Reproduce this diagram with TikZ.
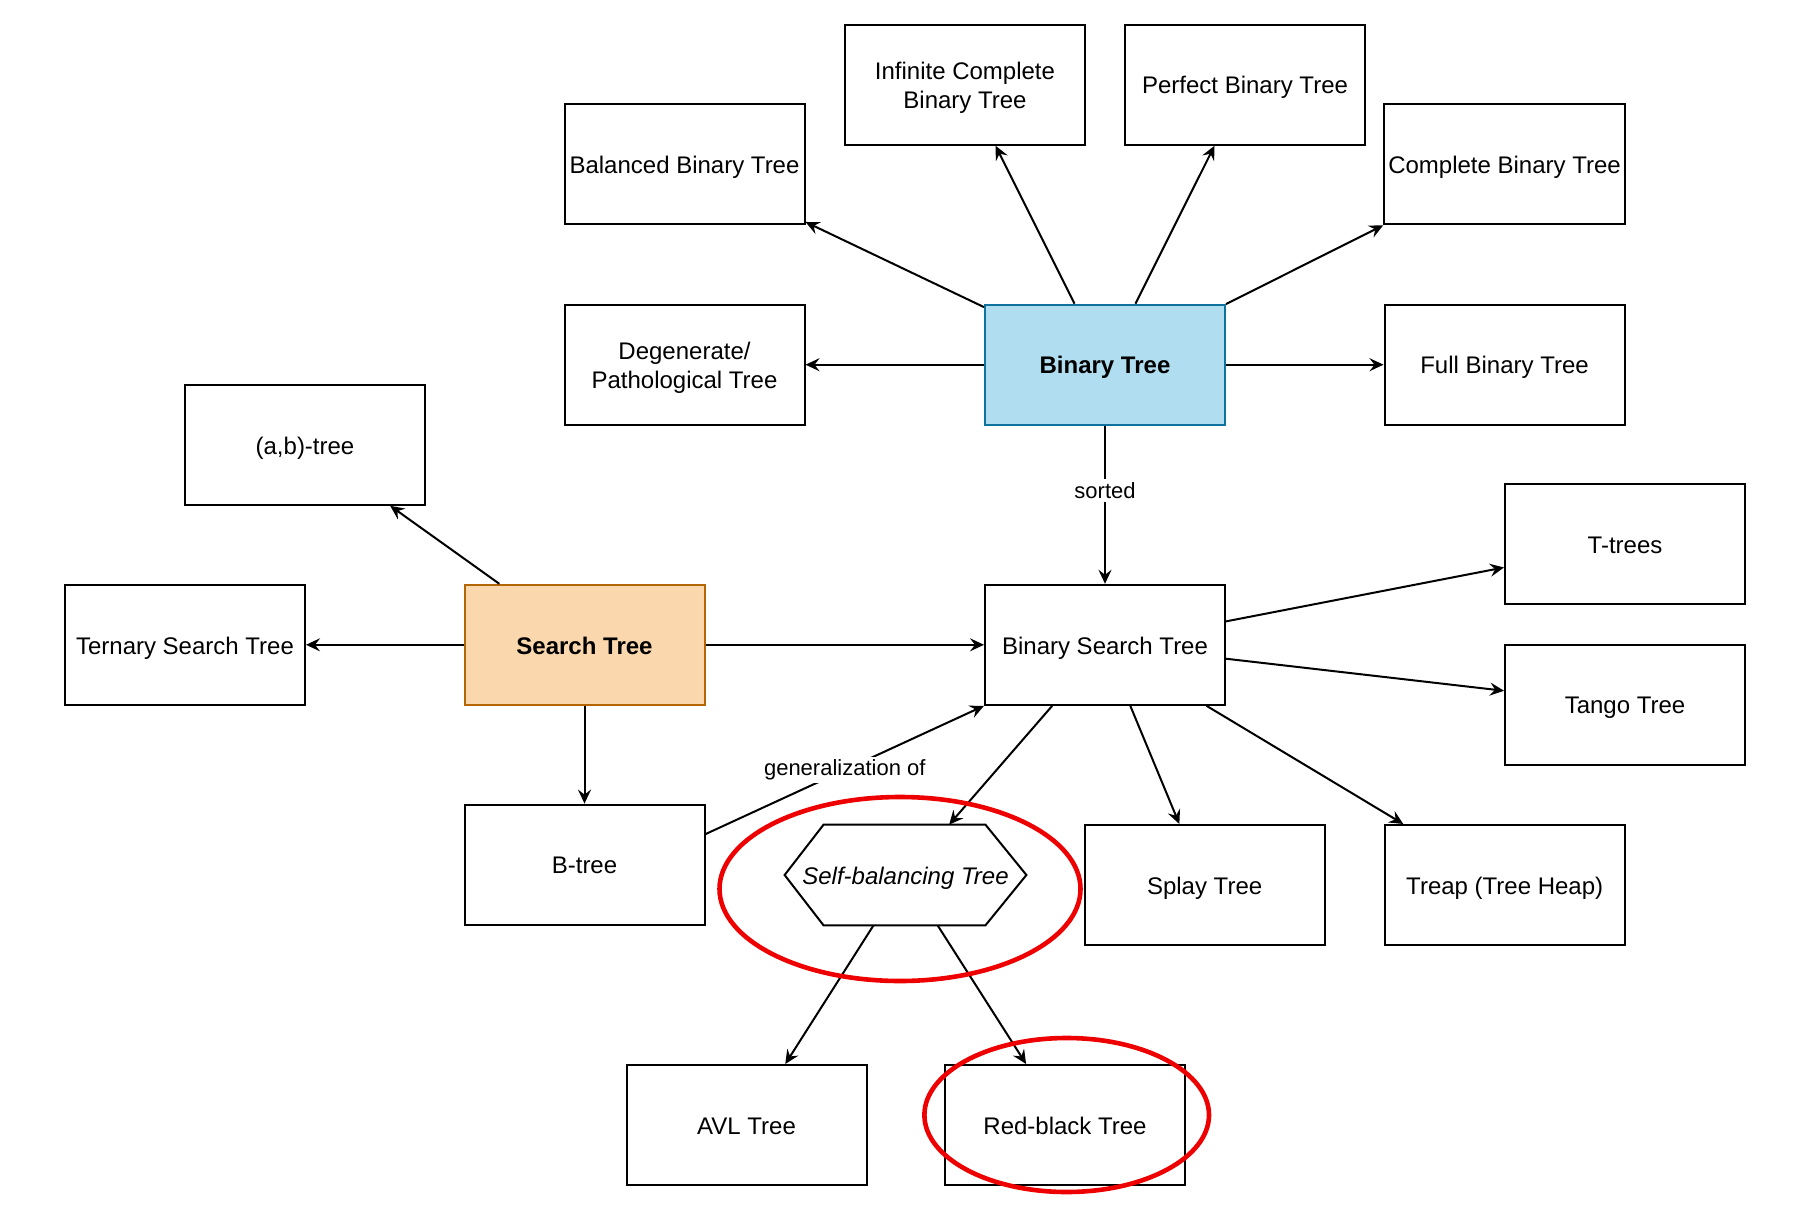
\documentclass[tikz,border=0pt]{standalone}
\usepackage{fontspec}
\setmainfont{Liberation Sans}
\usetikzlibrary{arrows.meta,calc,shapes.geometric}
\definecolor{bluefill}{HTML}{B1DDF0}
\definecolor{bluestroke}{HTML}{10739E}
\definecolor{orfill}{HTML}{FAD7AC}
\definecolor{orstroke}{HTML}{B46504}
\definecolor{hlred}{HTML}{EE0000}
\newcommand{\twolines}[2]{\raisebox{-1.8pt}[\height][\depth]{\begin{tabular}{@{}c@{}}#1\\#2\end{tabular}}}
\begin{document}
\begin{tikzpicture}[x=0.5pt,y=-0.5pt,
  box/.style={draw=black,line width=1pt,fill=white,minimum width=120pt,minimum height=60pt,
    inner sep=2pt,text height=12.2pt,text depth=3pt,font=\fontsize{12pt}{14.5pt}\selectfont},
  box2/.style={draw=black,line width=1pt,fill=white,minimum width=120pt,minimum height=60pt,
    inner sep=2pt,font=\fontsize{12pt}{14.5pt}\selectfont},
  bluebox/.style={box,fill=bluefill,draw=bluestroke,font=\fontsize{12pt}{14.5pt}\selectfont\bfseries},
  orbox/.style={box,fill=orfill,draw=orstroke,font=\fontsize{12pt}{14.5pt}\selectfont\bfseries},
  hexbox/.style={minimum width=120.5pt,minimum height=50pt,inner sep=0pt,text height=12.2pt,text depth=3pt,
    font=\fontsize{12pt}{14.5pt}\selectfont\itshape},
  conn/.style={draw=black,line width=1pt,-{Stealth[length=7pt,width=6.5pt,inset=2.5pt]}},
  elabel/.style={fill=white,inner sep=1.5pt,font=\fontsize{11pt}{12pt}\selectfont},
  hl/.style={draw=hlred,line width=2.3pt,ellipse,fill=none}
]
\useasboundingbox (0,0) rectangle (1814,1214);

% nodes
\node[box2] (inf)  at (965,84.7)   {\twolines{Infinite Complete}{Binary Tree}};
\node[box] (perf)  at (1245,84.7)  {Perfect Binary Tree};
\node[box] (bal)   at (684.5,164.5){Balanced Binary Tree};
\node[box] (comp)  at (1504.5,164.5){Complete Binary Tree};
\node[box2] (deg)  at (684.5,364.7){\twolines{Degenerate/}{Pathological Tree}};
\node[bluebox] (bin) at (1105,364.7) {Binary Tree};
\node[box] (full)  at (1504.5,364.7){Full Binary Tree};
\node[box] (ab)    at (305,444.8)  {(a,b)-tree};
\node[box] (tt)    at (1625,544)   {T-trees};
\node[box] (tern)  at (185,644.8)  {Ternary Search Tree};
\node[orbox] (st)  at (584.5,644.8){Search Tree};
\node[box] (bst)   at (1105,644.8) {Binary Search Tree};
\node[box] (tango) at (1625,704.7) {Tango Tree};
\node[box] (btree) at (584.5,864.6){B-tree};
\node[hexbox] (hex) at (905.5,875) {Self-balancing Tree};
\node[box] (splay) at (1204.6,885) {Splay Tree};
\node[box] (treap) at (1504.7,885) {Treap (Tree Heap)};
\node[box] (avl)   at (746.5,1125) {AVL Tree};
\node[box] (rb)    at (1065,1125)  {Red-black Tree};

% hexagon outline
\draw[line width=1pt] (hex.west) -- ($(hex.north west)+(39,0)$) -- ($(hex.north east)+(-41,0)$)
  -- (hex.east) -- ($(hex.south east)+(-41,0)$) -- ($(hex.south west)+(39,0)$) -- cycle;

% connectors
\draw[conn] (bin) -- (bal);
\draw[conn] (bin) -- (inf);
\draw[conn] (bin) -- (perf);
\draw[conn] (bin) -- (comp);
\draw[conn] (bin) -- (deg);
\draw[conn] (bin) -- (full);
\draw[conn] (bin) -- node[elabel,pos=0.41] {sorted} (bst);
\draw[conn] (st) -- (ab);
\draw[conn] (st) -- (tern);
\draw[conn] (st) -- (bst);
\draw[conn] (st) -- (btree);
\draw[conn] ($(btree.north east)!0.25!(btree.south east)$) -- node[elabel] {generalization of} (bst.south west);
\draw[conn] (bst) -- (tt);
\draw[conn] (bst) -- (tango);
\draw[conn] (bst) -- (hex);
\draw[conn] (bst) -- (splay);
\draw[conn] (bst) -- (treap);
\draw[conn] (hex) -- (avl);
\draw[conn] (hex) -- (rb);

% highlight ellipses
\node[hl,minimum width=180.5pt,minimum height=92pt] (hl1) at (900,889) {};
\node[hl,minimum width=142.3pt,minimum height=77pt] (hl2) at (1066.7,1115) {};
\end{tikzpicture}
\end{document}
